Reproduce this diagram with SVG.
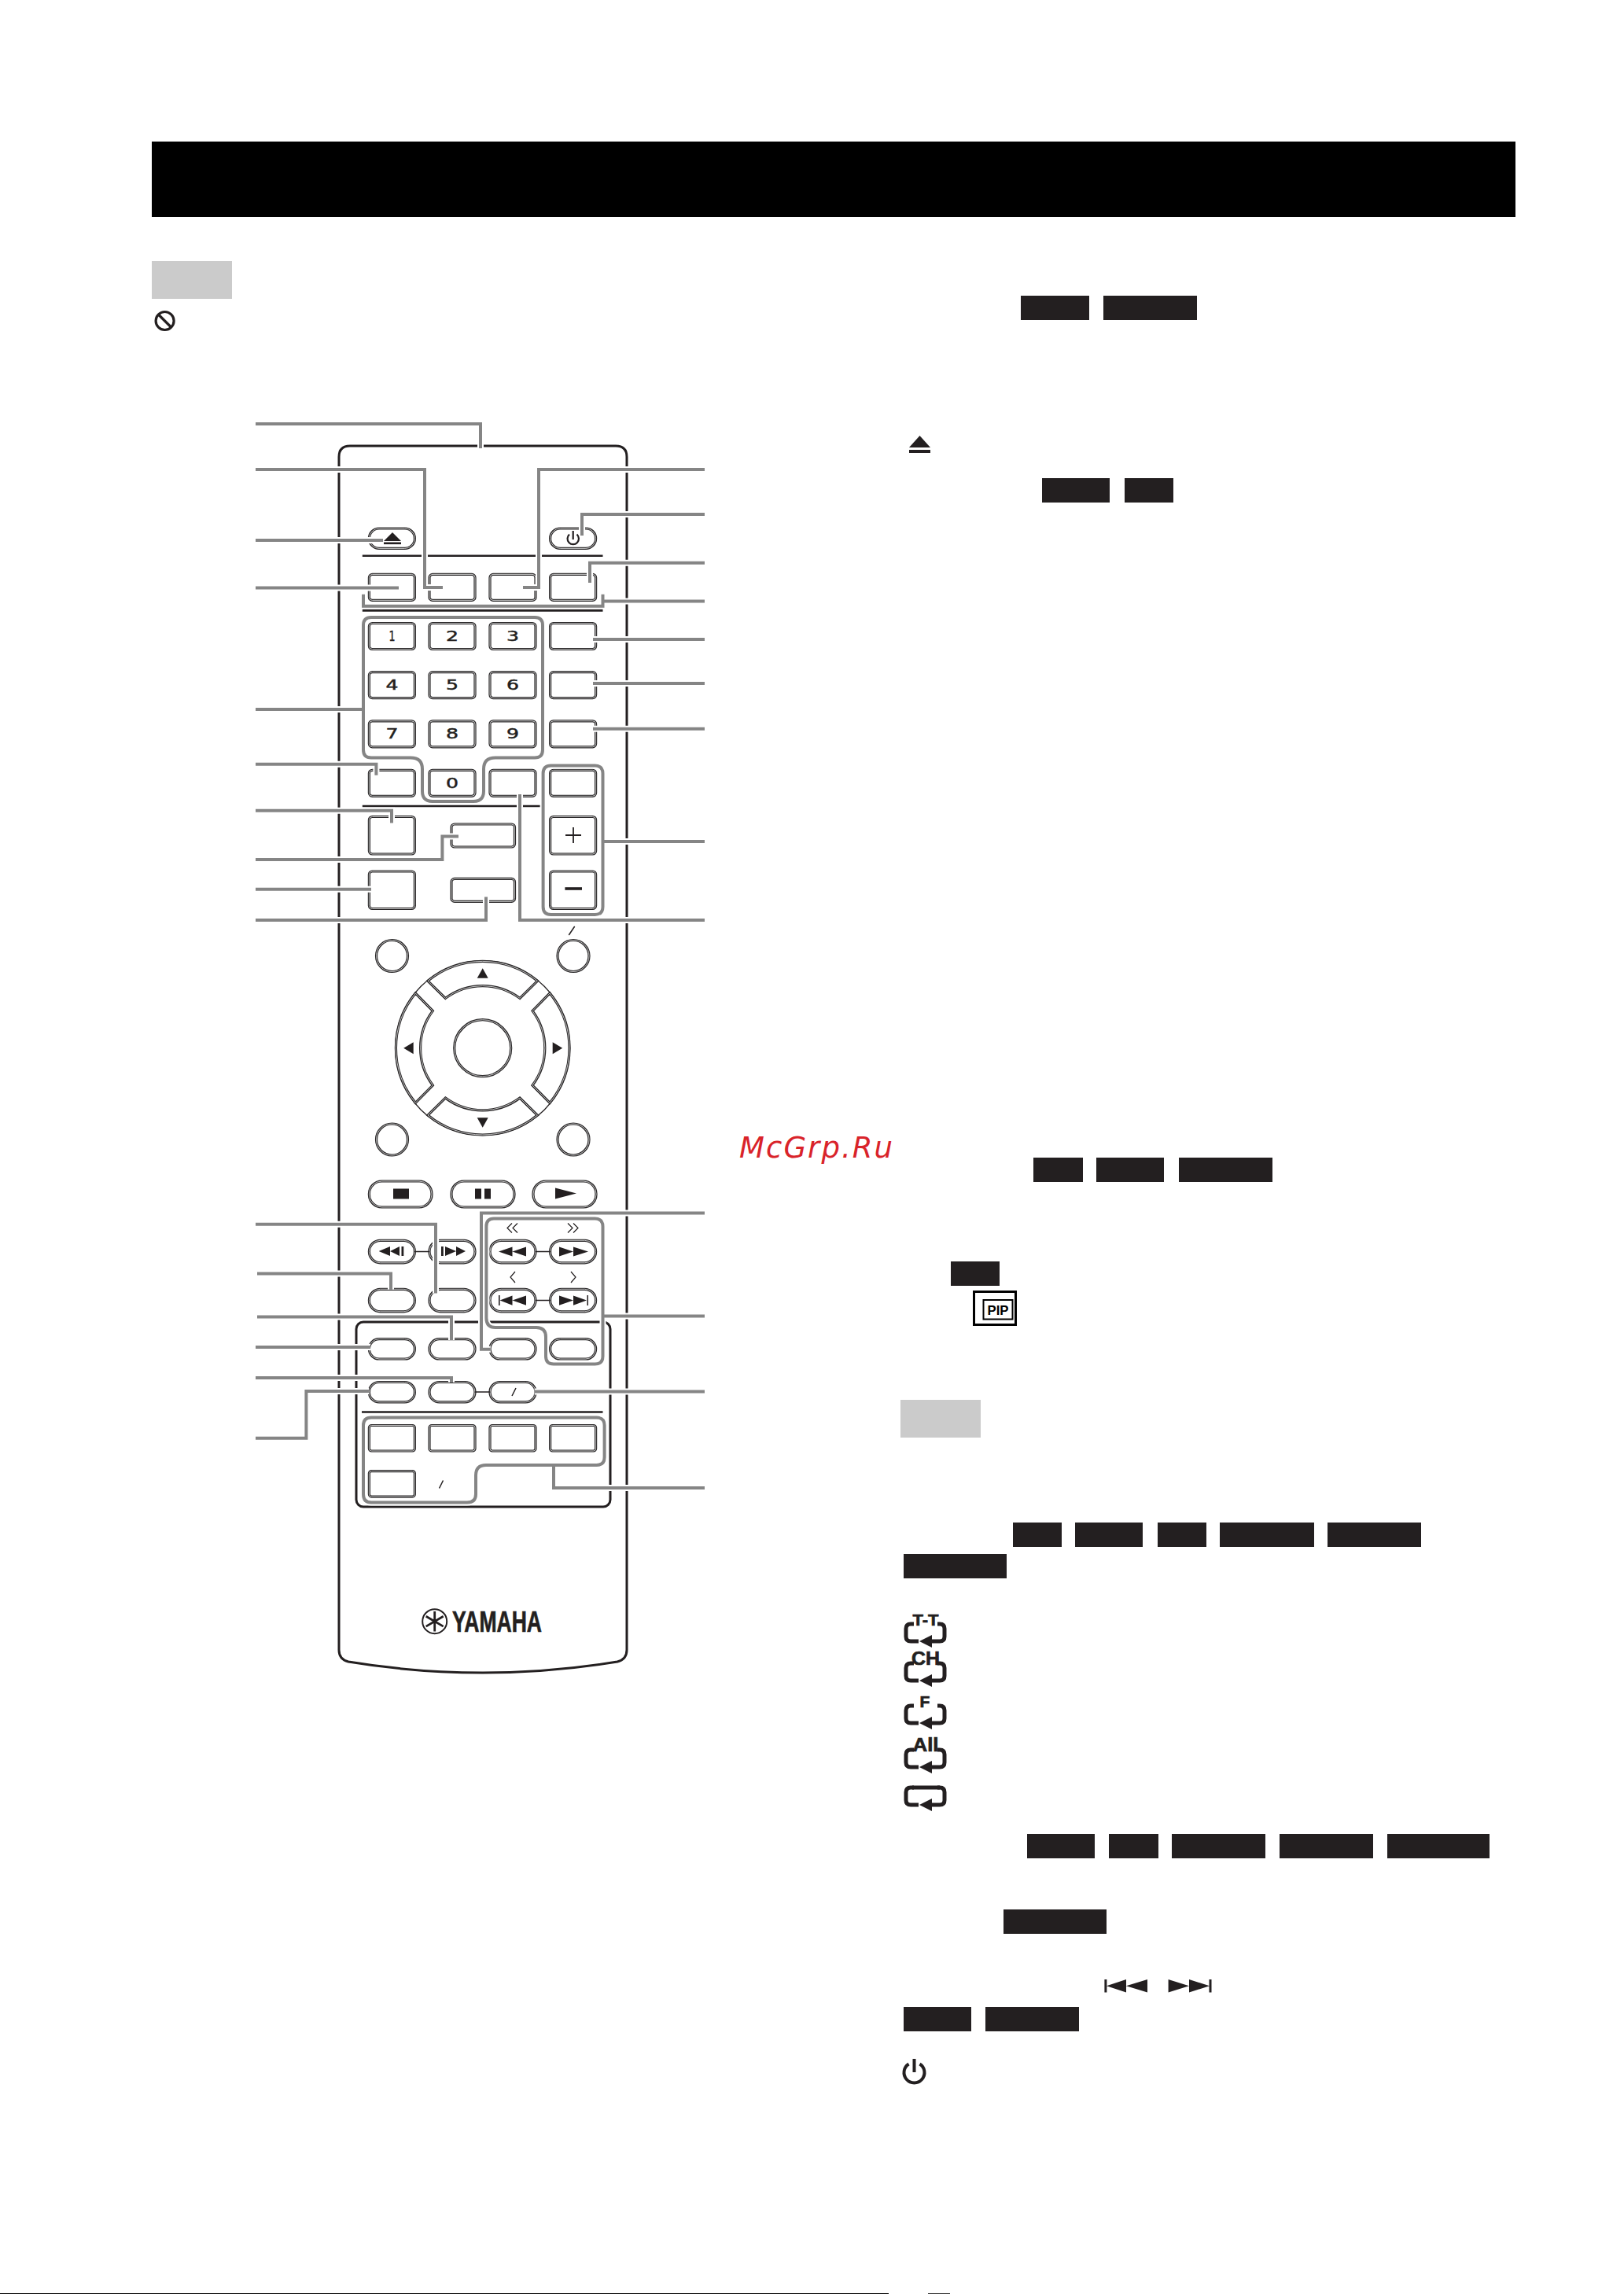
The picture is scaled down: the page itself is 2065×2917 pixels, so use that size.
<svg xmlns="http://www.w3.org/2000/svg" width="2065" height="2917" viewBox="0 0 2065 2917">
<style>
.o{fill:none;stroke:#2a2829;stroke-width:3.2}
.i{fill:none;stroke:#d4d4d4;stroke-width:.9}
.d{fill:#231f20}
.t{fill:none;stroke:#231f20;stroke-width:1.5}
.bl{fill:none;stroke:#231f20;stroke-width:3}
.badge{fill:#231f20}
.note{fill:#cbcbcb}
.n{font-family:"DejaVu Sans",sans-serif;font-size:17px;fill:#231f20;stroke:#231f20;stroke-width:.45;text-anchor:middle}
.rl{font-family:"Liberation Sans",Arial,sans-serif;font-weight:700;fill:#231f20;stroke:#231f20;stroke-width:.7;text-anchor:middle}
.lead path{fill:none;stroke-linecap:round;stroke-linejoin:miter}
</style>
<defs>
<g id="rb"><rect class="o" width="58" height="33" rx="4"/><rect class="i" width="58" height="33" rx="4"/></g>
<g id="rt"><rect class="o" width="58" height="47.5" rx="4"/><rect class="i" width="58" height="47.5" rx="4"/></g>
<g id="rw"><rect class="o" width="80.5" height="29" rx="4"/><rect class="i" width="80.5" height="29" rx="4"/></g>
<g id="rs"><rect class="o" width="58" height="32.5" rx="3"/><rect class="i" width="58" height="32.5" rx="3"/></g>
<g id="p28"><rect class="o" width="58" height="28.5" rx="14.2"/><rect class="i" width="58" height="28.5" rx="14.2"/></g>
<g id="p25"><rect class="o" width="58" height="25.4" rx="12.7"/><rect class="i" width="58" height="25.4" rx="12.7"/></g>
<g id="c"><circle class="o" r="20"/><circle class="i" r="20"/></g>
<g id="seg"><path class="o" d="M-69.7-85.4A110 110 0 0 1 69.7-85.4L47.3-63.4A79 79 0 0 0-47.3-63.4Z"/><path class="i" d="M-69.7-85.4A110 110 0 0 1 69.7-85.4L47.3-63.4A79 79 0 0 0-47.3-63.4Z"/></g>
<path id="rep" fill="none" stroke="#231f20" stroke-width="5" d="M1162 2065H1158Q1152 2065 1152 2071V2081Q1152 2087 1158 2087H1168M1192 2065H1195Q1201 2065 1201 2071V2081Q1201 2087 1195 2087H1180"/>
<polygon id="arr" class="d" points="1169,2087 1185,2079 1185,2095"/>
<g id="leaders">
<path d="M325 539H611V570"/><path d="M325 597H540V747H563"/><path d="M896 597H685V747H665"/><path d="M896 654H740V681"/><path d="M325 687H487"/><path d="M325 747.5H507"/><path d="M896 715.7H750V741"/><path d="M896 764.6H766.5"/><path d="M462 755.7V770.7H766.5V755.7"/>
<path d="M472 785H680Q690 785 690 795V953.6Q690 963.6 680 963.6H630Q615 963.6 615 978V1006Q615 1019 602 1019H550Q537 1019 537 1006V978Q537 963.6 522 963.6H472Q462 963.6 462 953.6V795Q462 785 472 785Z"/>
<path d="M325 902H462"/><path d="M896 812.9H754"/><path d="M896 869H754"/><path d="M896 926.8H754"/><path d="M325 971.8H478.4V985.7"/><path d="M325 1030.7H498V1046.4"/><path d="M325 1092.9H562.4V1063.6H583"/><path d="M325 1130.7H472"/><path d="M325 1170H618V1140.4"/><path d="M896 1170H661V1010"/>
<path d="M700.6 973.6H756.5Q766.5 973.6 766.5 983.6V1152.9Q766.5 1162.9 756.5 1162.9H700.6Q690.6 1162.9 690.6 1152.9V983.6Q690.6 973.6 700.6 973.6Z"/>
<path d="M766.5 1070H896"/>
<path d="M325 1556.8H554V1644.5"/><path d="M327 1619.6H497V1639.8"/><path d="M327 1674.5H574V1704"/><path d="M325 1713H471"/><path d="M325 1752H574V1758"/><path d="M325 1828.7H389.4V1769H469"/><path d="M896 1542.5H612V1715.7H623.7"/>
<path d="M628 1549.6H756.5Q766.5 1549.6 766.5 1559.6V1724.6Q766.5 1734.6 756.5 1734.6H704Q694 1734.6 694 1724.6V1700Q694 1688 682 1688H630Q618.4 1688 618.4 1676V1559.6Q618.4 1549.6 628 1549.6Z"/>
<path d="M766.5 1673.4H896"/><path d="M896 1769.4H679.6"/>
<path d="M472 1802.6H758.6Q768.6 1802.6 768.6 1812.6V1853Q768.6 1863 758.6 1863H618Q605 1863 605 1876V1900Q605 1910.5 594 1910.5H472Q462 1910.5 462 1900V1812.6Q462 1802.6 472 1802.6Z"/>
<path d="M704 1863V1892H896"/>
</g>
</defs>
<rect width="2065" height="2917" fill="#fff"/>
<g id="page-header"><rect x="193" y="180" width="1734" height="96" fill="#000"/></g>
<g id="note-1"><rect class="note" x="193" y="332" width="102" height="48"/><circle cx="209.6" cy="408" r="11.5" fill="none" stroke="#231f20" stroke-width="3.2"/><path d="M201.5 400L217.5 416" stroke="#231f20" stroke-width="3.2"/></g>
<g id="remote">
<path class="bl" d="M445 567H783Q797 567 797 581V2098Q797 2110 785 2113Q700 2127 614 2127Q528 2127 443 2113Q431 2110 431 2098V581Q431 567 445 567Z"/>
<rect class="bl" x="453" y="1681" width="323" height="235" rx="9"/>
<path class="t" style="stroke-width:2.6" d="M460.8 706.8H766.5M460.8 1025H690M460 1795.5H766.5"/>
<path class="bl" style="stroke-width:3.6" d="M460.8 776H766.5"/>
</g>
<g id="btn-eject"><use href="#p25" x="469.4" y="672"/><polygon class="d" points="499,677 488,688 510,688"/><rect class="d" x="488" y="689.5" width="22" height="2.6"/></g>
<g id="btn-power"><use href="#p25" x="699.6" y="672"/><path fill="none" stroke="#231f20" stroke-width="2.2" d="M724 679.5A7.2 7.2 0 1 0 733.5 679.5M728.7 675V686"/></g>
<g id="btns-top"><use href="#rb" x="469.4" y="730.4"/><use href="#rb" x="546" y="730.4"/><use href="#rb" x="623" y="730.4"/><use href="#rb" x="699.6" y="730.4"/></g>
<g id="btns-digits">
<use href="#rb" x="469.4" y="792.5"/><use href="#rb" x="546" y="792.5"/><use href="#rb" x="623" y="792.5"/><use href="#rb" x="699.6" y="792.5"/>
<use href="#rb" x="469.4" y="854.6"/><use href="#rb" x="546" y="854.6"/><use href="#rb" x="623" y="854.6"/><use href="#rb" x="699.6" y="854.6"/>
<use href="#rb" x="469.4" y="916.8"/><use href="#rb" x="546" y="916.8"/><use href="#rb" x="623" y="916.8"/><use href="#rb" x="699.6" y="916.8"/>
<use href="#rb" x="469.4" y="979.3"/><use href="#rb" x="546" y="979.3"/><use href="#rb" x="623" y="979.3"/><use href="#rb" x="699.6" y="979.3"/>
<text class="n" x="498.5" y="815" textLength="8" lengthAdjust="spacingAndGlyphs">1</text><text class="n" x="575" y="815" textLength="16" lengthAdjust="spacingAndGlyphs">2</text><text class="n" x="652" y="815" textLength="16" lengthAdjust="spacingAndGlyphs">3</text>
<text class="n" x="498.5" y="877" textLength="16" lengthAdjust="spacingAndGlyphs">4</text><text class="n" x="575" y="877" textLength="16" lengthAdjust="spacingAndGlyphs">5</text><text class="n" x="652" y="877" textLength="16" lengthAdjust="spacingAndGlyphs">6</text>
<text class="n" x="498.5" y="939" textLength="16" lengthAdjust="spacingAndGlyphs">7</text><text class="n" x="575" y="939" textLength="16" lengthAdjust="spacingAndGlyphs">8</text><text class="n" x="652" y="939" textLength="16" lengthAdjust="spacingAndGlyphs">9</text>
<text class="n" x="575" y="1001.5" textLength="16" lengthAdjust="spacingAndGlyphs">0</text>
</g>
<g id="btns-side">
<use href="#rt" x="469.4" y="1038.5"/><use href="#rt" x="469.4" y="1108"/><use href="#rt" x="699.6" y="1038.5"/><use href="#rt" x="699.6" y="1108"/>
<use href="#rw" x="574" y="1048"/><use href="#rw" x="574" y="1117.4"/>
<path fill="none" stroke="#231f20" stroke-width="1.8" d="M719 1062H739M729 1052V1072"/><path class="d" d="M718.4 1128.2H740V1131.8H718.4Z"/>
<path class="t" d="M723.3 1189L730.7 1178"/>
</g>
<g id="btns-round"><use href="#c" x="498.5" y="1215.5"/><use href="#c" x="729" y="1215.5"/><use href="#c" x="498.5" y="1449"/><use href="#c" x="729" y="1449"/></g>
<g id="dpad" transform="translate(613.7 1332.7)">
<circle r="111" fill="none" stroke="#231f20" stroke-width="1.3"/>
<circle class="o" r="36"/><circle class="i" r="36"/>
<use href="#seg"/><use href="#seg" transform="rotate(90)"/><use href="#seg" transform="rotate(180)"/><use href="#seg" transform="rotate(270)"/>
<polygon class="d" points="0,-101.5 -7,-89 7,-89"/><polygon class="d" points="0,101 -7,88.5 7,88.5"/><polygon class="d" points="-100.5,0 -88,-7.5 -88,7.5"/><polygon class="d" points="101.5,0 89,-7.5 89,7.5"/>
</g>
<g id="btns-transport">
<rect class="o" x="469.4" y="1502" width="79.6" height="33" rx="16"/><rect class="i" x="469.4" y="1502" width="79.6" height="33" rx="16"/>
<rect class="o" x="574" y="1502" width="80" height="33" rx="16"/><rect class="i" x="574" y="1502" width="80" height="33" rx="16"/>
<rect class="o" x="678" y="1502" width="80" height="33" rx="16"/><rect class="i" x="678" y="1502" width="80" height="33" rx="16"/>
<rect class="d" x="500" y="1511.5" width="20" height="13"/><rect class="d" x="604" y="1511.5" width="8" height="13"/><rect class="d" x="616" y="1511.5" width="8" height="13"/><polygon class="d" points="706,1510.5 733,1517.5 706,1524.5"/>
<use href="#p28" x="469.4" y="1577.3"/><use href="#p28" x="546" y="1577.3"/><use href="#p28" x="623" y="1577.3"/><use href="#p28" x="699.6" y="1577.3"/>
<use href="#p28" x="469.4" y="1639.3"/><use href="#p28" x="546" y="1639.3"/><use href="#p28" x="623" y="1639.3"/><use href="#p28" x="699.6" y="1639.3"/>
<path class="t" d="M527.4 1591.5H546M681 1591.5H699.6M681 1653.6H699.6"/>
<path class="d" d="M481.6 1591L496 1585V1597ZM496 1591L508 1585V1597ZM510.5 1585H513.3V1597H510.5ZM561 1585H563.8V1597H561ZM566 1585L580 1591L566 1597ZM580 1585L592 1591L580 1597Z"/>
<path class="d" d="M634 1591.5L651.5 1585.5V1597.5ZM651.5 1591.5L669 1585.5V1597.5ZM711 1585.5L729 1591.5L711 1597.5ZM729 1585.5L748 1591.5L729 1597.5Z"/>
<path class="d" d="M634 1647H635.6V1660H634ZM635.6 1653.6L651.5 1647.5V1659.7ZM651.5 1653.6L669 1647.5V1659.7ZM711 1647.5L729 1653.6L711 1659.7ZM729 1647.5L746 1653.6L729 1659.7ZM746.5 1647H748V1660H746.5Z"/>
<path class="t" style="stroke-width:1.2" d="M651 1555.5L645 1561.5L651 1567.5M658 1555.5L652 1561.5L658 1567.5M722 1555.5L728 1561.5L722 1567.5M729 1555.5L735 1561.5L729 1567.5M655 1617L649 1624L655 1631M726 1617L732 1624L726 1631"/>
</g>
<g id="btns-lower">
<use href="#p25" x="469.4" y="1702.6"/><use href="#p25" x="546" y="1702.6"/><use href="#p25" x="623" y="1702.6"/><use href="#p25" x="699.6" y="1702.6"/>
<use href="#p25" x="469.4" y="1757.5"/><use href="#p25" x="546" y="1757.5"/><use href="#p25" x="623" y="1757.5"/>
<path class="t" d="M604 1770H623M651 1775L656 1765M558.5 1892.5L563.5 1882.5"/>
<use href="#rs" x="469.4" y="1812.5"/><use href="#rs" x="546" y="1812.5"/><use href="#rs" x="623" y="1812.5"/><use href="#rs" x="699.6" y="1812.5"/><use href="#rs" x="469.4" y="1870.6"/>
</g>
<g id="yamaha-logo">
<circle cx="552.7" cy="2061.7" r="15.5" fill="none" stroke="#231f20" stroke-width="2"/>
<path fill="none" stroke="#231f20" stroke-width="2.8" d="M552.7 2049V2074.4M541.7 2055.3L563.7 2068.1M541.7 2068.1L563.7 2055.3"/>
<text class="rl" x="632" y="2075" font-size="37" textLength="114" lengthAdjust="spacingAndGlyphs">YAMAHA</text>
</g>
<g id="connectors">
<use class="lead" href="#leaders" fill="none" stroke="#fff" stroke-width="8"/>
<use class="lead" href="#leaders" fill="none" stroke="#858585" stroke-width="4"/>
</g>
<g id="badges-1"><rect class="badge" x="1298" y="376" width="87" height="31"/><rect class="badge" x="1403" y="376" width="119" height="31"/><polygon class="d" points="1169.5,554 1156,569 1183,569"/><rect class="d" x="1156" y="572" width="27" height="4"/><rect class="badge" x="1325" y="608" width="86" height="31"/><rect class="badge" x="1430" y="608" width="62" height="31"/></g>
<g id="watermark"><text x="940" y="1472" font-family="'DejaVu Sans',sans-serif" font-style="italic" font-size="37" fill="#d9232a" textLength="195">McGrp.Ru</text></g>
<g id="badges-2"><rect class="badge" x="1314" y="1472" width="63" height="31"/><rect class="badge" x="1394" y="1472" width="86" height="31"/><rect class="badge" x="1499" y="1472" width="119" height="31"/><rect class="badge" x="1209" y="1604" width="62" height="31"/></g>
<g id="pip-icon"><rect x="1238.5" y="1642.5" width="53" height="42" fill="#fff" stroke="#000" stroke-width="3"/><rect x="1250.5" y="1653" width="37" height="24.5" fill="#fff" stroke="#000" stroke-width="2"/><text x="1269" y="1672" font-family="'Liberation Sans',sans-serif" font-size="17" font-weight="700" fill="#000" text-anchor="middle" textLength="27" lengthAdjust="spacingAndGlyphs">PIP</text></g>
<g id="note-2"><rect class="note" x="1145" y="1780" width="102" height="48"/></g>
<g id="badges-3"><rect class="badge" x="1288" y="1936" width="62" height="31"/><rect class="badge" x="1367" y="1936" width="86" height="31"/><rect class="badge" x="1472" y="1936" width="62" height="31"/><rect class="badge" x="1551" y="1936" width="120" height="31"/><rect class="badge" x="1688" y="1936" width="119" height="31"/><rect class="badge" x="1149" y="1976" width="131" height="31"/></g>
<g id="repeat-icons">
<g id="rep-tt"><use href="#rep"/><use href="#arr"/><text class="rl" x="1177" y="2066.5" font-size="21" textLength="33" lengthAdjust="spacingAndGlyphs">T-T</text></g>
<g id="rep-ch" transform="translate(0 50)"><use href="#rep"/><use href="#arr"/><text class="rl" x="1177" y="2067" font-size="24" textLength="36" lengthAdjust="spacingAndGlyphs">CH</text></g>
<g id="rep-f" transform="translate(0 104)"><use href="#rep"/><use href="#arr"/><text class="rl" x="1176" y="2067" font-size="21">F</text></g>
<g id="rep-all" transform="translate(0 160)"><use href="#rep"/><use href="#arr"/><text class="rl" x="1177" y="2067" font-size="24" textLength="33" lengthAdjust="spacingAndGlyphs">All</text></g>
<g id="rep-off" transform="translate(0 208)"><use href="#rep"/><path d="M1160 2065H1195" stroke="#231f20" stroke-width="5"/><use href="#arr"/></g>
</g>
<g id="badges-4"><rect class="badge" x="1306" y="2332" width="86" height="31"/><rect class="badge" x="1410" y="2332" width="63" height="31"/><rect class="badge" x="1490" y="2332" width="119" height="31"/><rect class="badge" x="1627" y="2332" width="119" height="31"/><rect class="badge" x="1764" y="2332" width="130" height="31"/><rect class="badge" x="1276" y="2428" width="131" height="31"/></g>
<g id="skip-icons"><path class="d" d="M1404.4 2517H1407.4V2533.5H1404.4ZM1407 2525.2L1432 2517V2533.5ZM1432 2525.2L1459 2517V2533.5ZM1485.6 2517L1512 2525.2L1485.6 2533.5ZM1512 2517L1538 2525.2L1512 2533.5ZM1537.5 2517H1540.5V2533.5H1537.5Z"/></g>
<g id="badges-5"><rect class="badge" x="1149" y="2552" width="86" height="31"/><rect class="badge" x="1253" y="2552" width="119" height="31"/></g>
<g id="power-icon"><path fill="none" stroke="#231f20" stroke-width="4" d="M1155.5 2624.5A13 13 0 1 0 1169.5 2624.5M1162.5 2618V2635"/></g>
<g id="page-bottom"><rect x="0" y="2916" width="1130" height="1" fill="#000"/><rect x="1180" y="2916" width="28" height="1" fill="#333"/></g>
</svg>
